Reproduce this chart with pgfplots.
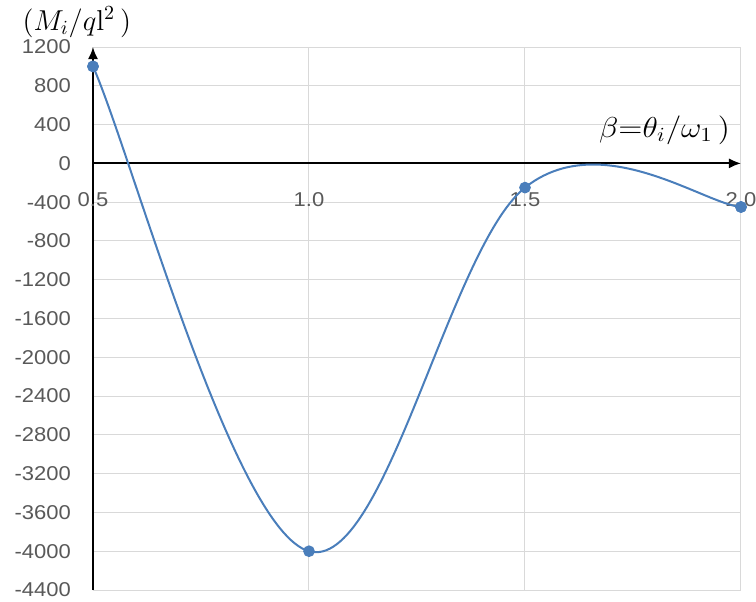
\documentclass[border=0pt]{standalone}
\usepackage{pgfplots}
\pgfplotsset{compat=1.18}
\usepackage[no-math]{fontspec}
\setmainfont{Liberation Sans}
\usetikzlibrary{calc,arrows.meta}
\definecolor{linecol}{RGB}{74,126,187}
\definecolor{tickcol}{RGB}{89,89,89}
\definecolor{gridcol}{RGB}{217,217,217}

\begin{document}
\begin{tikzpicture}
\begin{axis}[
    name=ax,
    scale only axis,
    width=324pt, height=271.5pt,
    xmin=0.5, xmax=2.0,
    ymin=-4400, ymax=1200,
    axis x line=middle,
    axis y line=left,
    axis line style={black, line width=0.9pt, -{Latex[length=6pt,width=5pt]}},
    xtick={0.5,1.0,1.5,2.0},
    xticklabels={0.5,1.0,1.5,2.0},
    hide obscured x ticks=false,
    ytick={-4400,-4000,...,1200},
    major tick length=0pt,
    grid=major,
    major grid style={gridcol, line width=0.5pt},
    /pgf/number format/assume math mode=true,
    /pgf/number format/set thousands separator={},
    tick label style={font=\fontsize{10}{11}\selectfont, text=tickcol, xscale=1.1},
    yticklabel style={xshift=-6.5pt},
    xticklabel style={yshift=-11pt},
    clip mode=individual,
]
% end points given twice, so the smooth curve leaves and meets them as Excel does
\addplot[linecol, line width=1pt, smooth, tension=0.63,
    mark=*, mark size=2.4pt, mark options={fill=linecol, draw=linecol}]
    coordinates {(0.5,1000) (0.5,1000) (1.0,-4000) (1.5,-250) (2.0,-450) (2.0,-450)};
\end{axis}
\node[font=\fontsize{14}{15}\selectfont] at ($(ax.north west)+(-8.1pt,12.5pt)$)
    {$(M_i/q\mathrm{l}^2\,)$};
\node[font=\fontsize{14}{15}\selectfont, anchor=east, xscale=1.1] at ($(ax.north east)+(-1.6pt,-41.5pt)$)
    {$\beta{=}\theta_i/\omega_1\,)$};
\pgfresetboundingbox
\path[use as bounding box] ($(ax.south west)+(-46.5pt,-5.5pt)$) rectangle ($(ax.north east)+(7.5pt,23.5pt)$);
\end{tikzpicture}
\end{document}
